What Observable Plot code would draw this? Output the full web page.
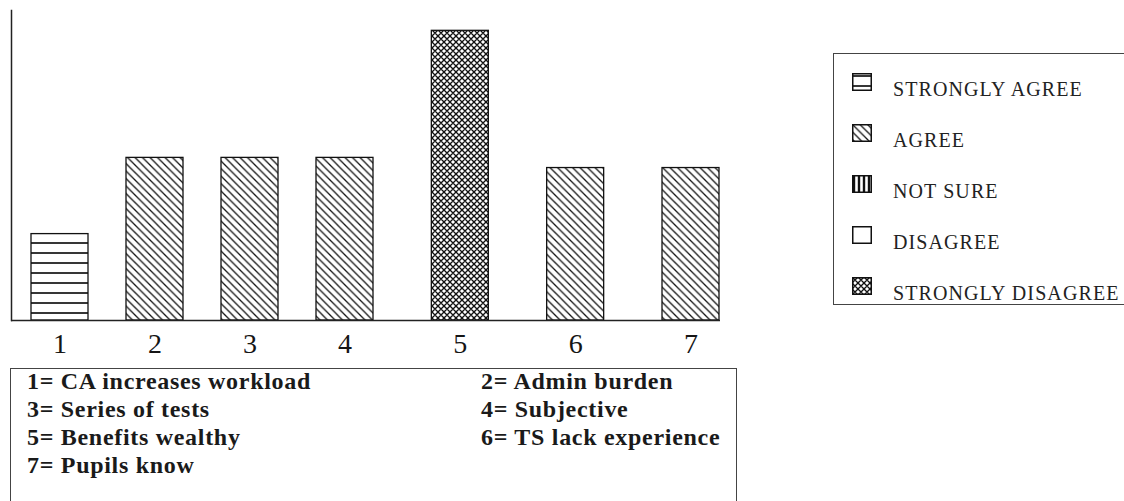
<!DOCTYPE html>
<html><head><meta charset="utf-8">
<script src="https://cdn.jsdelivr.net/npm/d3@7"></script>
<script src="https://cdn.jsdelivr.net/npm/@observablehq/plot@0.6"></script>
<style>
html,body{margin:0;padding:0;background:#fff;}
#wrap{position:relative;width:1124px;height:501px;overflow:hidden;font-family:"Liberation Serif","Times New Roman",serif;color:#151515;}
#chart{position:absolute;left:0;top:0;}
#legend{position:absolute;left:833px;top:53px;width:320px;height:252px;border:1.5px solid #444;border-right:none;box-sizing:border-box;}
.sw{position:absolute;left:18px;}
.lt{position:absolute;left:59px;font-family:"Liberation Serif",serif;font-size:20px;letter-spacing:1.1px;white-space:nowrap;transform:translateY(-50%);line-height:1;color:#222;}
#caption{position:absolute;left:10px;top:368px;width:727px;height:150px;border:1.5px solid #444;border-bottom:none;box-sizing:border-box;}
.cl{position:absolute;font-family:"Liberation Serif",serif;font-size:24px;letter-spacing:0.7px;white-space:nowrap;transform:translateY(-50%);line-height:1;font-weight:bold;color:#1a1a1a;}
</style></head>
<body>
<svg width="0" height="0" style="position:absolute">
<defs>
<pattern id="p-sa" patternUnits="userSpaceOnUse" width="10" height="10"><rect width="10" height="10" fill="#fff"/><path d="M0,3H10" stroke="#111" stroke-width="1.7"/></pattern>
<pattern id="p-a" patternUnits="userSpaceOnUse" width="7.5" height="7.5"><rect width="7.5" height="7.5" fill="#fff"/><path d="M0,0L7.5,7.5M-3.75,3.75L3.75,11.25M3.75,-3.75L11.25,3.75" stroke="#111" stroke-width="1.3"/></pattern>
<pattern id="p-ns" patternUnits="userSpaceOnUse" width="5" height="5"><rect width="5" height="5" fill="#fff"/><path d="M2,0V5" stroke="#111" stroke-width="2.4"/></pattern>
<pattern id="p-d" patternUnits="userSpaceOnUse" width="5" height="5"><rect width="5" height="5" fill="#fff"/></pattern>
<pattern id="p-sd" patternUnits="userSpaceOnUse" width="6" height="6"><rect width="6" height="6" fill="#fff"/><path d="M0,0L6,6M-3,3L3,9M3,-3L9,3M0,6L6,0M-3,3L3,-3M3,9L9,3" stroke="#111" stroke-width="1.35"/></pattern>
</defs>
</svg>
<div id="wrap">
  <div id="chart"></div>
  <div id="legend"></div>
  <div id="caption"></div>
</div>
<script>
// ---- data ----
const categories = [1, 2, 3, 4, 5, 6, 7];
const values = [17, 32, 32, 32, 57, 30, 30];
const responses = ["STRONGLY AGREE", "AGREE", "AGREE", "AGREE", "STRONGLY DISAGREE", "AGREE", "AGREE"];
const legendLabels = ["STRONGLY AGREE", "AGREE", "NOT SURE", "DISAGREE", "STRONGLY DISAGREE"];
const captionLabels = ["1= CA increases workload", "2= Admin burden", "3= Series of tests", "4= Subjective", "5= Benefits wealthy", "6= TS lack experience", "7= Pupils know"];

const patternIds = ["p-sa", "p-a", "p-ns", "p-d", "p-sd"];
const patternOf = (r) => `url(#${patternIds[legendLabels.indexOf(r)]})`;

const data = categories.map((k, i) => ({k, v: values[i], r: responses[i]}));

const chart = Plot.plot({
  width: 1124,
  height: 365,
  marginTop: 10,
  marginBottom: 45,
  marginLeft: 11,
  marginRight: 404,
  style: {fontFamily: "'Liberation Serif', serif", background: "transparent", color: "#151515"},
  x: {type: "linear", domain: [1, 4, 7], range: [59.5, 344.5, 690.5], label: null},
  y: {domain: [0, 61], axis: null},
  color: {type: "identity"},
  marks: [
    Plot.rectY(data, {x1: "k", x2: "k", y: "v", insetLeft: -28.5, insetRight: -28.5,
      fill: (d) => patternOf(d.r), stroke: "#111", strokeWidth: 1.3}),
    Plot.frame({anchor: "left", stroke: "#222", strokeWidth: 1.5}),
    Plot.ruleY([0], {stroke: "#222", strokeWidth: 1.5}),
    Plot.axisX({ticks: categories, tickFormat: (d) => String(d), tickSize: 0, tickPadding: 13, fontSize: 28, fill: "#151515", label: null})
  ]
});
document.getElementById("chart").appendChild(chart);

// ---- legend ----
const legend = d3.select("#legend");
legendLabels.forEach((lab, i) => {
  const cy = 35 + i * 51;
  const sw = legend.append("svg").attr("class", "sw").attr("width", 20).attr("height", 18)
    .style("top", (cy - 16) + "px");
  sw.append("rect").attr("x", 0.75).attr("y", 0.75).attr("width", 18.5).attr("height", 16.5)
    .attr("fill", `url(#${patternIds[i]})`).attr("stroke", "#111").attr("stroke-width", 1.5);
  legend.append("div").attr("class", "lt").style("top", cy + "px").text(lab);
});

// ---- caption box ----
const cap = d3.select("#caption");
captionLabels.forEach((lab, i) => {
  cap.append("div").attr("class", "cl")
    .style("left", (i % 2 === 0 ? 16 : 470) + "px")
    .style("top", (12 + Math.floor(i / 2) * 28) + "px")
    .text(lab);
});
</script>
</body></html>
